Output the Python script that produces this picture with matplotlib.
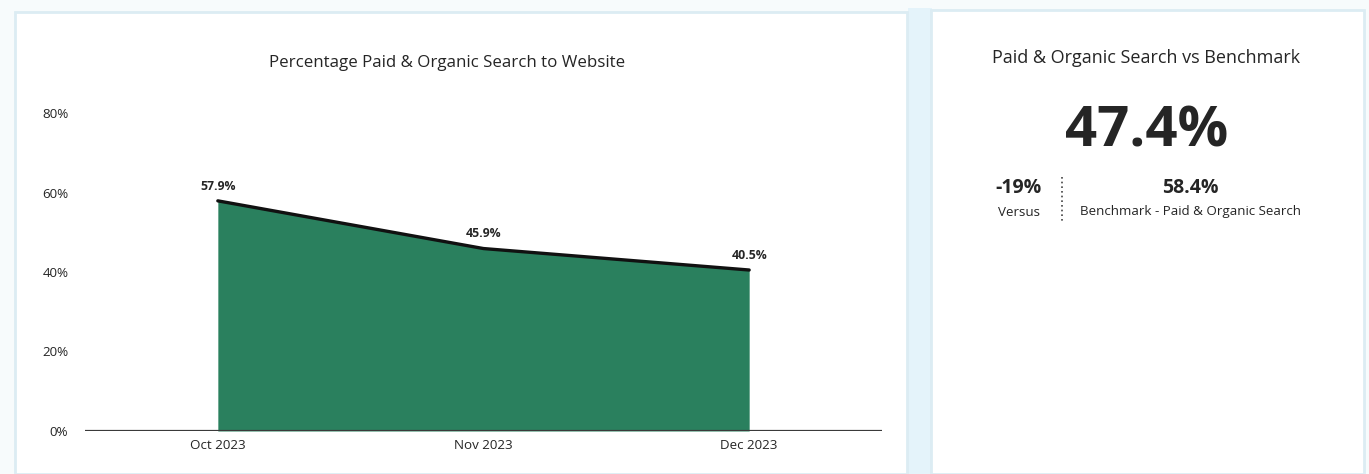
import matplotlib.pyplot as plt
from matplotlib.patches import Rectangle

# Monthly share of traffic from paid & organic search
months = ["Oct 2023", "Nov 2023", "Dec 2023"]
search_share = [57.9, 45.9, 40.5]
y_ticks = [0, 20, 40, 60, 80]

# Benchmark card
headline_value = 47.4
versus_change = -19
benchmark_value = 58.4

FILL_GREEN = "#2a805e"
TEXT_DARK = "#252525"
PANEL_EDGE = "#dcecf3"
GAP_BLUE = "#e4f3fa"

plt.rcParams["font.family"] = ["Open Sans", "DejaVu Sans"]

W, H = 1369, 474
fig = plt.figure(figsize=(W / 100, H / 100), dpi=100)
fig.patch.set_facecolor("#f7fbfc")


def px_rect(x0, y0, x1, y1, **kw):
    # rectangle given in pixel coords measured from the top-left corner
    fig.patches.append(Rectangle((x0 / W, 1 - y1 / H), (x1 - x0) / W, (y1 - y0) / H,
                                 transform=fig.transFigure, figure=fig, zorder=0, **kw))


# panel backgrounds
px_rect(908, 8, 932, 474, facecolor=GAP_BLUE, edgecolor="none")
px_rect(15, 12, 907, 474, facecolor="white", edgecolor=PANEL_EDGE, linewidth=2)
px_rect(931, 10, 1364, 474, facecolor="white", edgecolor=PANEL_EDGE, linewidth=2)

# area chart
ax = fig.add_axes([85 / W, 1 - 431 / H, (882 - 85) / W, (431 - 113) / H])
ax.set_zorder(5)
ax.set_facecolor("none")
x = range(len(months))
ax.fill_between(x, search_share, 0, color=FILL_GREEN, linewidth=0)
ax.plot(x, search_share, color="#111111", linewidth=2.4, solid_capstyle="round")
ax.axhline(0, color="#3a3a3a", linewidth=1.6)

for xi, v in zip(x, search_share):
    ax.annotate(f"{v:.1f}%", xy=(xi, v), xytext=(0, 6), textcoords="offset points",
                ha="center", va="bottom", fontsize=8.8, fontweight="bold", color=TEXT_DARK)

ax.set_xlim(-0.5, 2.5)
ax.set_ylim(0, 80)
ax.set_xticks(list(x))
ax.set_xticklabels(months)
ax.set_yticks(y_ticks)
ax.set_yticklabels([f"{t}%" for t in y_ticks])
ax.tick_params(axis="both", length=0, labelsize=9.6, colors=TEXT_DARK)
ax.tick_params(axis="x", pad=6)
ax.tick_params(axis="y", pad=12)
for s in ax.spines.values():
    s.set_visible(False)

fig.text(447 / W, 1 - 63 / H, "Percentage Paid & Organic Search to Website",
         ha="center", va="center", fontsize=12.2, color=TEXT_DARK)

# benchmark card
fig.text(1146 / W, 1 - 58 / H, "Paid & Organic Search vs Benchmark",
         ha="center", va="center", fontsize=13, color=TEXT_DARK)
fig.text(1147 / W, 1 - 132 / H, f"{headline_value:.1f}%",
         ha="center", va="center", fontsize=40.5, fontweight="bold", color=TEXT_DARK)
fig.text(1019 / W, 1 - 188 / H, f"{versus_change}%",
         ha="center", va="center", fontsize=14, fontweight="bold", color=TEXT_DARK)
fig.text(1019 / W, 1 - 212 / H, "Versus",
         ha="center", va="center", fontsize=9.6, color=TEXT_DARK)
fig.text(1190 / W, 1 - 188 / H, f"{benchmark_value:.1f}%",
         ha="center", va="center", fontsize=14, fontweight="bold", color=TEXT_DARK)
fig.text(1190 / W, 1 - 212 / H, "Benchmark - Paid & Organic Search",
         ha="center", va="center", fontsize=9.6, color=TEXT_DARK)
fig.add_artist(plt.Line2D([1062 / W, 1062 / W], [1 - 177 / H, 1 - 221 / H],
                          transform=fig.transFigure, color="#444444",
                          linewidth=1.2, linestyle=(0, (1, 1.8))))

fig.savefig("out.png", dpi=100)
